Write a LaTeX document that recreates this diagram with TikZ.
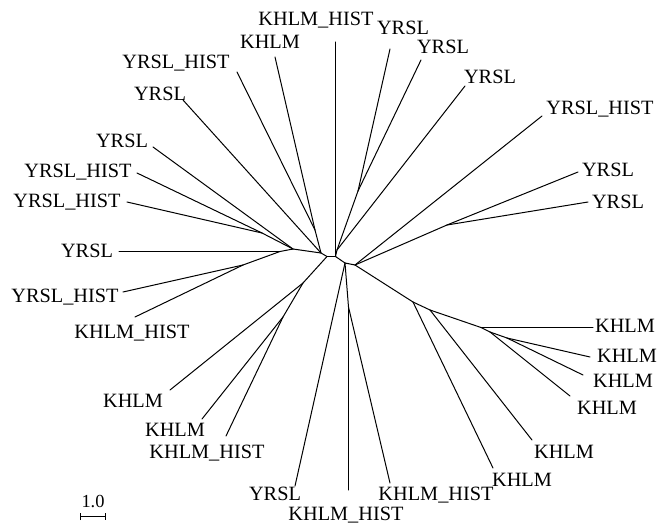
\documentclass[tikz,border=0pt]{standalone}
\usepackage{fontspec}
\setmainfont{Liberation Serif}
\usetikzlibrary{arrows.meta}
\begin{document}
\begin{tikzpicture}[x=1pt,y=-1pt,
  branch/.style={line width=1pt, line cap=round, line join=round},
  lab/.style={inner sep=0pt, text height=13.4pt, text depth=0pt,
              font=\fontsize{20.3}{24}\selectfont}]
\useasboundingbox (0,0) rectangle (657,527);

% internal nodes of the tree
\coordinate (c1) at (327,256.5);
\coordinate (c2) at (335.5,256.5);
\coordinate (u0) at (337,250);
\coordinate (u1) at (358,191);
\coordinate (n)  at (345,263);
\coordinate (b1) at (348.5,307);
\coordinate (np) at (355,265);
\coordinate (r1) at (447,225);
\coordinate (k1) at (413,302);
\coordinate (k2) at (430,310);
\coordinate (k3) at (481,327.5);
\coordinate (k4) at (490,332);
\coordinate (k5) at (507,338);
\coordinate (l0) at (321,253);
\coordinate (l1) at (315,230);
\coordinate (l2) at (293,249);
\coordinate (l3) at (262,233);
\coordinate (l4) at (280,251.5);
\coordinate (l5) at (243,265);
\coordinate (d1) at (303,283);
\coordinate (d2) at (283,317);

% leaf tips
\coordinate (t1)  at (335.5,42);
\coordinate (t2)  at (390,49);
\coordinate (t3)  at (421,60);
\coordinate (t4)  at (465,86);
\coordinate (t5)  at (542,116);
\coordinate (t6)  at (578,172);
\coordinate (t7)  at (588,202);
\coordinate (t8)  at (593,327.5);
\coordinate (t9)  at (590,357);
\coordinate (t10) at (583,375);
\coordinate (t11) at (570,396);
\coordinate (t12) at (532,440);
\coordinate (t13) at (493,468);
\coordinate (t14) at (390,483);
\coordinate (t15) at (348.5,490);
\coordinate (t16) at (295,486);
\coordinate (t17) at (226,436);
\coordinate (t18) at (202,419);
\coordinate (t19) at (170,390);
\coordinate (t20) at (135,317);
\coordinate (t21) at (123,292);
\coordinate (t22) at (119,251.5);
\coordinate (t23) at (127,202);
\coordinate (t24) at (137,173);
\coordinate (t25) at (153,147);
\coordinate (t26) at (183,100);
\coordinate (t27) at (237,72);
\coordinate (t28) at (275,57);

% branches
\draw[branch] (c1) -- (c2);
\draw[branch] (c2) -- (t1);
\draw[branch] (c2) -- (u0);
\draw[branch] (u0) -- (u1);
\draw[branch] (u1) -- (t2);
\draw[branch] (u1) -- (t3);
\draw[branch] (u0) -- (t4);
\draw[branch] (c2) -- (n);
\draw[branch] (n) -- (np);
\draw[branch] (n) -- (t16);
\draw[branch] (n) -- (b1);
\draw[branch] (b1) -- (t15);
\draw[branch] (b1) -- (t14);
\draw[branch] (np) -- (t5);
\draw[branch] (np) -- (r1);
\draw[branch] (r1) -- (t6);
\draw[branch] (r1) -- (t7);
\draw[branch] (np) -- (k1);
\draw[branch] (k1) -- (t13);
\draw[branch] (k1) -- (k2);
\draw[branch] (k2) -- (t12);
\draw[branch] (k2) -- (k3);
\draw[branch] (k3) -- (t8);
\draw[branch] (k3) -- (k4);
\draw[branch] (k4) -- (t11);
\draw[branch] (k4) -- (k5);
\draw[branch] (k5) -- (t9);
\draw[branch] (k5) -- (t10);
\draw[branch] (c1) -- (l0);
\draw[branch] (l0) -- (t26);
\draw[branch] (l0) -- (l1);
\draw[branch] (l1) -- (t28);
\draw[branch] (l1) -- (t27);
\draw[branch] (l0) -- (l2);
\draw[branch] (l2) -- (t25);
\draw[branch] (l2) -- (l3);
\draw[branch] (l3) -- (t24);
\draw[branch] (l3) -- (t23);
\draw[branch] (l2) -- (l4);
\draw[branch] (l4) -- (t22);
\draw[branch] (l4) -- (l5);
\draw[branch] (l5) -- (t21);
\draw[branch] (l5) -- (t20);
\draw[branch] (c1) -- (d1);
\draw[branch] (d1) -- (t19);
\draw[branch] (d1) -- (d2);
\draw[branch] (d2) -- (t18);
\draw[branch] (d2) -- (t17);

% leaf labels
\node[lab] (n1)  at (316,19)  {KHLM\_HIST};
\node[lab] (n2)  at (403,28)  {YRSL};
\node[lab] (n3)  at (443,47)  {YRSL};
\node[lab] (n4)  at (490,77)  {YRSL};
\node[lab] (n5)  at (600,108) {YRSL\_HIST};
\node[lab] (n6)  at (608,170) {YRSL};
\node[lab] (n7)  at (618,202) {YRSL};
\node[lab] (n8)  at (625,326) {KHLM};
\node[lab] (n9)  at (627,356) {KHLM};
\node[lab] (n10) at (623,381) {KHLM};
\node[lab] (n11) at (607,408) {KHLM};
\node[lab] (n12) at (564,452) {KHLM};
\node[lab] (n13) at (522,480) {KHLM};
\node[lab] (n14) at (436,494) {KHLM\_HIST};
\node[lab] (n15) at (346,514) {KHLM\_HIST};
\node[lab] (n16) at (275,494) {YRSL};
\node[lab] (n17) at (207,452) {KHLM\_HIST};
\node[lab] (n18) at (175,430) {KHLM};
\node[lab] (n19) at (133,401) {KHLM};
\node[lab] (n20) at (132,332) {KHLM\_HIST};
\node[lab] (n21) at (65,296)  {YRSL\_HIST};
\node[lab] (n22) at (87,251)  {YRSL};
\node[lab] (n23) at (67,201)  {YRSL\_HIST};
\node[lab] (n24) at (78,171)  {YRSL\_HIST};
\node[lab] (n25) at (122,141) {YRSL};
\node[lab] (n26) at (160,94)  {YRSL};
\node[lab] (n27) at (176,62)  {YRSL\_HIST};
\node[lab] (n28) at (270,42)  {KHLM};

% scale bar
\node[lab, font=\fontsize{18.4}{22}\selectfont, text height=12.4pt] (sbl) at (93,501) {1.0};
\coordinate (sb1) at (80,516.5);
\coordinate (sb2) at (106,516.5);
\draw[line width=1.3pt, {Bar[width=7pt]}-{Bar[width=7pt]}] (sb1) -- (sb2);
\end{tikzpicture}
\end{document}
